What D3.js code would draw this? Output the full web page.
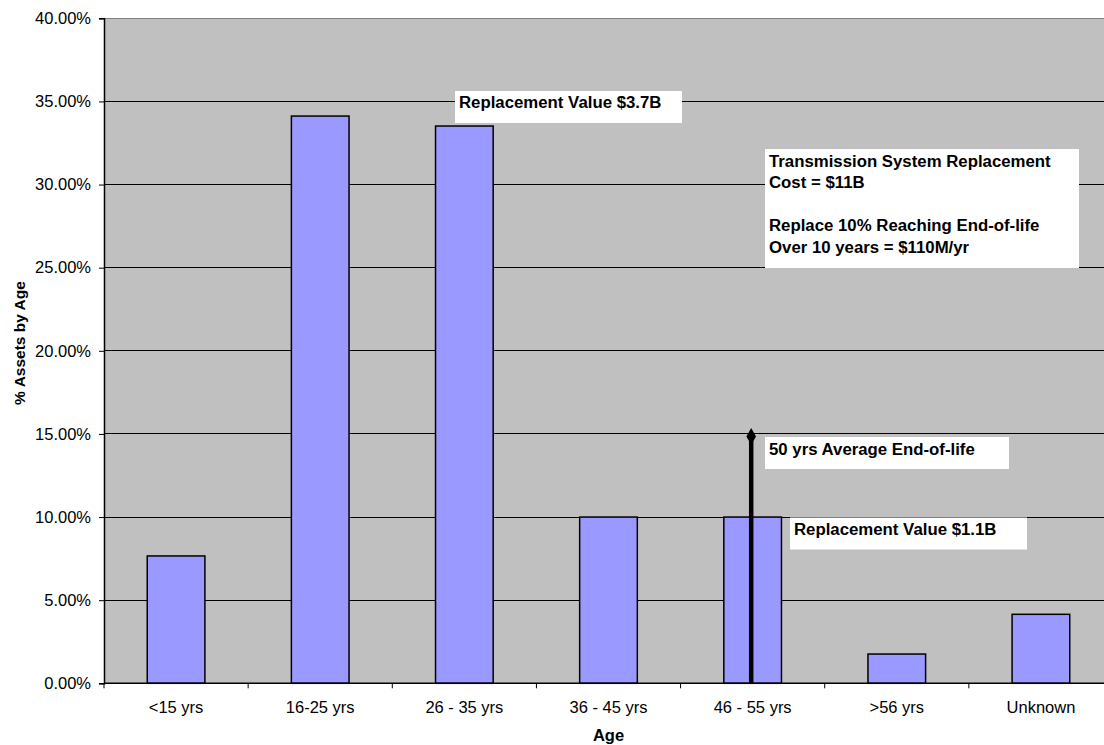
<!DOCTYPE html>
<html><head><meta charset="utf-8">
<script src="https://cdn.jsdelivr.net/npm/d3@7"></script>
<style>body{margin:0;background:#fff;}svg{display:block;font-family:Arial,"Liberation Sans",sans-serif;}</style>
</head><body>
<svg id="c" width="1104" height="745"></svg>
<script>
const categories = ["<15 yrs","16-25 yrs","26 - 35 yrs","36 - 45 yrs","46 - 55 yrs",">56 yrs","Unknown"];
const values = [7.66, 34.12, 33.52, 10.0, 10.0, 1.76, 4.15];
const yTicks = [0,5,10,15,20,25,30,35,40];
const endOfLife = {category:"46 - 55 yrs", value:14.85, label:"50 yrs Average End-of-life"};
const notes = [
  {lines:["Replacement Value $3.7B"]},
  {lines:["Replacement Value $1.1B"]},
  {lines:["Transmission System Replacement","Cost = $11B","","Replace 10% Reaching End-of-life","Over 10 years = $110M/yr"]}
];

const svg = d3.select("#c");
const L=104, R=1113, T=18.3, B=683.3;
const x = d3.scaleBand().domain(categories).range([L,R]).paddingInner(0).paddingOuter(0);
const y = d3.scaleLinear().domain([0,40]).range([B,T]);

svg.append("rect").attr("x",L).attr("y",T).attr("width",R-L).attr("height",B-T).attr("fill","#C0C0C0");

svg.append("g").selectAll("line").data(yTicks).join("line")
  .attr("x1",L).attr("x2",R).attr("y1",d=>y(d)).attr("y2",d=>y(d))
  .attr("stroke",d=>d===40?"#808080":"#000").attr("stroke-width",1).attr("shape-rendering","crispEdges");

const bw = x.bandwidth();
svg.append("g").selectAll("rect").data(values).join("rect")
  .attr("x",(d,i)=>x(categories[i])+bw*0.3)
  .attr("width",bw*0.4)
  .attr("y",d=>y(d)).attr("height",d=>B-y(d))
  .attr("fill","#9999FF").attr("stroke","#000").attr("stroke-width",1.5);

// y axis
const ya = svg.append("g").attr("transform",`translate(${L},0)`)
  .call(d3.axisLeft(y).tickValues(yTicks).tickFormat(d=>d.toFixed(2)+"%").tickSize(5).tickPadding(8));
ya.select(".domain").attr("stroke","#000").attr("stroke-width",1.5);
ya.selectAll("text").attr("font-size","16.5px").attr("font-family","Arial,'Liberation Sans',sans-serif").attr("fill","#000");

// x axis
const xa = svg.append("g").attr("transform",`translate(0,${B})`)
  .call(d3.axisBottom(x).tickSize(0).tickPadding(18));
xa.select(".domain").remove();
xa.selectAll("text").attr("font-size","16.5px").attr("font-family","Arial,'Liberation Sans',sans-serif").attr("fill","#000");
svg.append("line").attr("x1",L).attr("x2",R).attr("y1",B).attr("y2",B).attr("stroke","#000").attr("stroke-width",1.5);
svg.append("g").selectAll("line").data(d3.range(categories.length+1)).join("line")
  .attr("x1",i=>L+i*bw).attr("x2",i=>L+i*bw).attr("y1",B).attr("y2",B+5)
  .attr("stroke","#000").attr("stroke-width",1);

// axis titles
svg.append("text").attr("x",(L+R)/2).attr("y",741).attr("text-anchor","middle")
  .attr("font-size","16.5px").attr("font-weight","bold").text("Age");
svg.append("text").attr("transform","translate(25,343) rotate(-90)").attr("text-anchor","middle")
  .attr("font-size","15.5px").attr("font-weight","bold").text("% Assets by Age");

// end-of-life marker
const ex = x(endOfLife.category)+bw*0.49;
svg.append("line").attr("x1",ex).attr("x2",ex).attr("y1",y(0)).attr("y2",y(endOfLife.value))
  .attr("stroke","#000").attr("stroke-width",4.5);
svg.append("path").attr("d",d3.symbol(d3.symbolDiamond,80)()).attr("transform",`translate(${ex},${y(endOfLife.value)})`).attr("fill","#000");

function note(x0,y0,w,h,lines,padX,base,lh){
  svg.append("rect").attr("x",x0).attr("y",y0).attr("width",w).attr("height",h).attr("fill","#fff");
  const t = svg.append("text").attr("font-size","16.8px").attr("font-weight","bold").attr("fill","#000");
  lines.forEach((s,i)=>t.append("tspan").attr("x",x0+padX).attr("y",base+i*lh).text(s));
}
note(765,437,244,32,[endOfLife.label],4,455,21.5);
note(455,91,227,32,notes[0].lines,4,108,21.5);
note(790,517.5,237,32,notes[1].lines,4,535,21.5);
note(765,149,314,119,notes[2].lines,4,166.5,21.5);
</script>
</body></html>
